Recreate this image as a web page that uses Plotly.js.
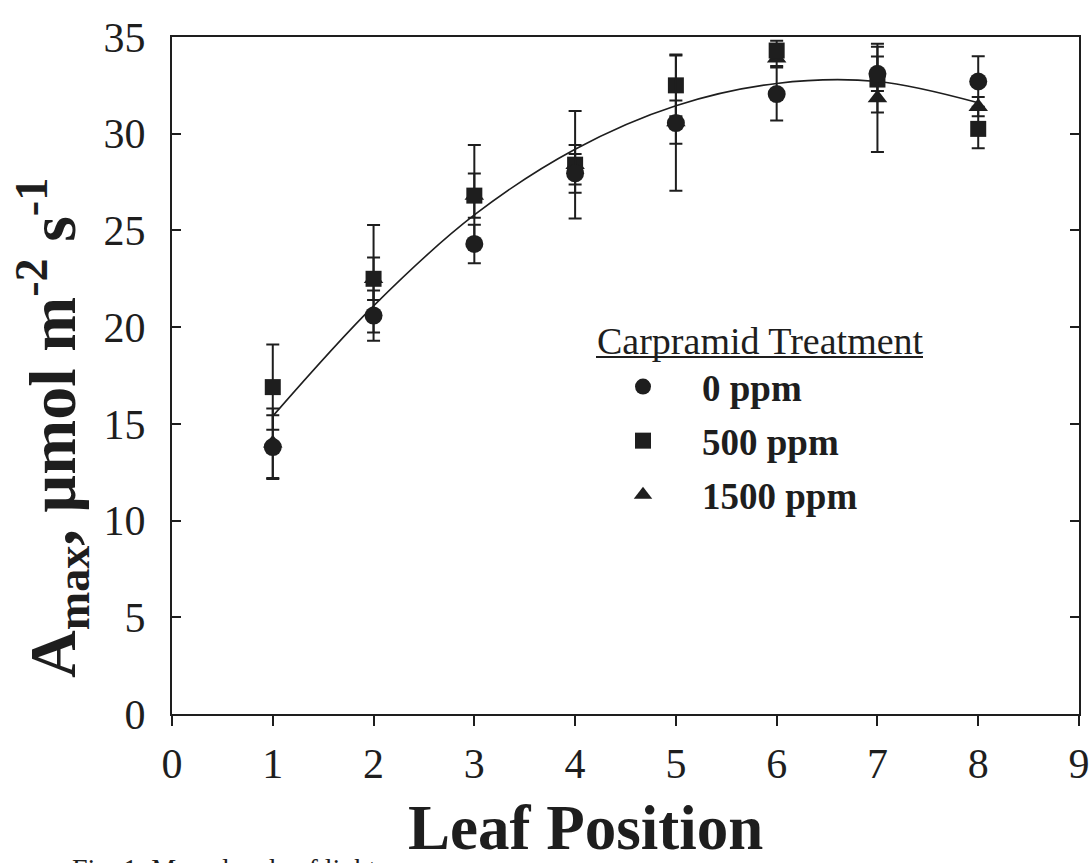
<!DOCTYPE html>
<html><head><meta charset="utf-8">
<script src="https://cdn.plot.ly/plotly-3.0.1.min.js"></script>
<style>html,body{margin:0;padding:0;background:#fff}</style>
</head><body><div id="chart" style="width:1091px;height:863px"></div>
<script>
// Leaf position (x) and Amax values
const leafPosition = [1, 2, 3, 4, 5, 6, 7, 8];

const amax0ppm    = [13.8, 20.6, 24.3, 27.95, 30.55, 32.05, 33.1, 32.7];
const err0ppm     = [1.65, 1.3, 1.0, 1.0, 3.5, 1.37, 0.89, 1.3];

const amax500ppm  = [16.9, 22.5, 26.8, 28.4, 32.5, 34.3, 32.8, 30.25];
const err500ppm   = [2.2, 2.78, 2.62, 2.78, 1.6, 0.5, 1.7, 1.0];

const amax1500ppm = [14.0, 22.5, 26.8, 28.4, 30.6, 33.9, 31.85, 31.4];
const err1500ppm  = [1.8, 1.1, 1.14, 1.02, 1.12, 0.4, 2.8, 0.5];

// fitted curve
const fitX = [1, 2, 3, 4, 5, 6, 7, 8];
const fitY = [15.4, 21.1, 25.8, 29.2, 31.45, 32.6, 32.7, 31.6];

const xTickVals = [0, 1, 2, 3, 4, 5, 6, 7, 8, 9];
const yTickVals = [0, 5, 10, 15, 20, 25, 30, 35];

const seriesNames = ['0 ppm', '500 ppm', '1500 ppm'];
const legendHeader = 'Carpramid Treatment';

const ink = '#1e1e1e';
const serif = '"Liberation Serif", "Times New Roman", Times, serif';

function errTrace(name, y, e, symbol, size, rank) {
  return {
    type: 'scatter', mode: 'markers', name: name,
    x: leafPosition, y: y,
    error_y: {type: 'data', array: e, visible: true, color: ink, thickness: 2, width: 6.5},
    marker: {symbol: symbol, size: size, color: ink, line: {width: 0}},
    cliponaxis: false,
    legendrank: rank,
    legendgroup: name
  };
}

const traces = [
  {type: 'scatter', mode: 'lines', x: fitX, y: fitY, line: {color: ink, width: 1.6, shape: 'spline'},
   showlegend: false, hoverinfo: 'skip'},
  errTrace(seriesNames[2], amax1500ppm, err1500ppm, 'triangle-up', 17, 3),
  errTrace(seriesNames[1], amax500ppm, err500ppm, 'square', 16, 2),
  errTrace(seriesNames[0], amax0ppm, err0ppm, 'circle', 18, 1)
];

const L = 172, R = 12, T = 37, B = 149;
const W = 1091, H = 863;
const pw = W - L - R, ph = H - T - B;
const px = v => (v - L) / pw;
const py = v => (H - B - v) / ph;

const layout = {
  width: W, height: H,
  margin: {l: L, r: R, t: T, b: B},
  paper_bgcolor: '#ffffff', plot_bgcolor: '#ffffff',
  font: {family: serif, color: ink},
  showlegend: true,
  legend: {
    x: px(584), y: py(356), xanchor: 'left', yanchor: 'top',
    bgcolor: 'rgba(0,0,0,0)', borderwidth: 0,
    font: {family: serif, size: 37, color: ink, weight: 'bold'},
    itemwidth: 108, traceorder: 'grouped', tracegroupgap: 3,
    itemclick: false, itemdoubleclick: false
  },
  xaxis: {
    range: [0, 9], tickvals: xTickVals, ticktext: xTickVals.map(String),
    showgrid: false, zeroline: false,
    showline: true, linecolor: ink, linewidth: 2, mirror: true,
    ticks: 'outside', ticklen: 10, tickwidth: 2, tickcolor: ink,
    ticklabelstandoff: 2, ticklabeloverflow: 'allow',
    tickfont: {family: serif, size: 42, color: ink}
  },
  yaxis: {
    range: [0, 35], tickvals: yTickVals, ticktext: yTickVals.map(String),
    showgrid: false, zeroline: false,
    showline: true, linecolor: ink, linewidth: 2, mirror: 'ticks',
    ticks: 'inside', ticklen: 9, tickwidth: 2, tickcolor: ink,
    ticklabelstandoff: 16, ticklabeloverflow: 'allow',
    tickfont: {family: serif, size: 42, color: ink}
  },
  annotations: [
    {xref: 'paper', yref: 'paper', x: px(52), y: py(428), xanchor: 'center', yanchor: 'middle',
     textangle: -90, showarrow: false,
     text: '<b>A<sub>max</sub>, µmol m<sup>-2</sup> s<sup>-1</sup></b>',
     font: {family: serif, size: 66, color: ink}},
    {xref: 'paper', yref: 'paper', x: px(585), y: py(828), xanchor: 'center', yanchor: 'middle',
     showarrow: false, text: '<b>Leaf Position</b>',
     font: {family: serif, size: 63, color: ink}},
    {xref: 'paper', yref: 'paper', x: px(595), y: py(341), xanchor: 'left', yanchor: 'middle',
     showarrow: false, text: legendHeader,
     font: {family: serif, size: 38, color: ink}},
    {xref: 'paper', yref: 'paper', x: px(70), y: py(851), xanchor: 'left', yanchor: 'top',
     showarrow: false, text: 'Fig. 1. Mean levels of light',
     font: {family: serif, size: 28, color: ink}}
  ],
  shapes: [
    {type: 'line', xref: 'paper', yref: 'paper', x0: px(596), x1: px(923), y0: py(357), y1: py(357),
     line: {color: ink, width: 1.8}}
  ]
};

Plotly.newPlot('chart', traces, layout, {displayModeBar: false, staticPlot: true});
</script>
</body></html>
